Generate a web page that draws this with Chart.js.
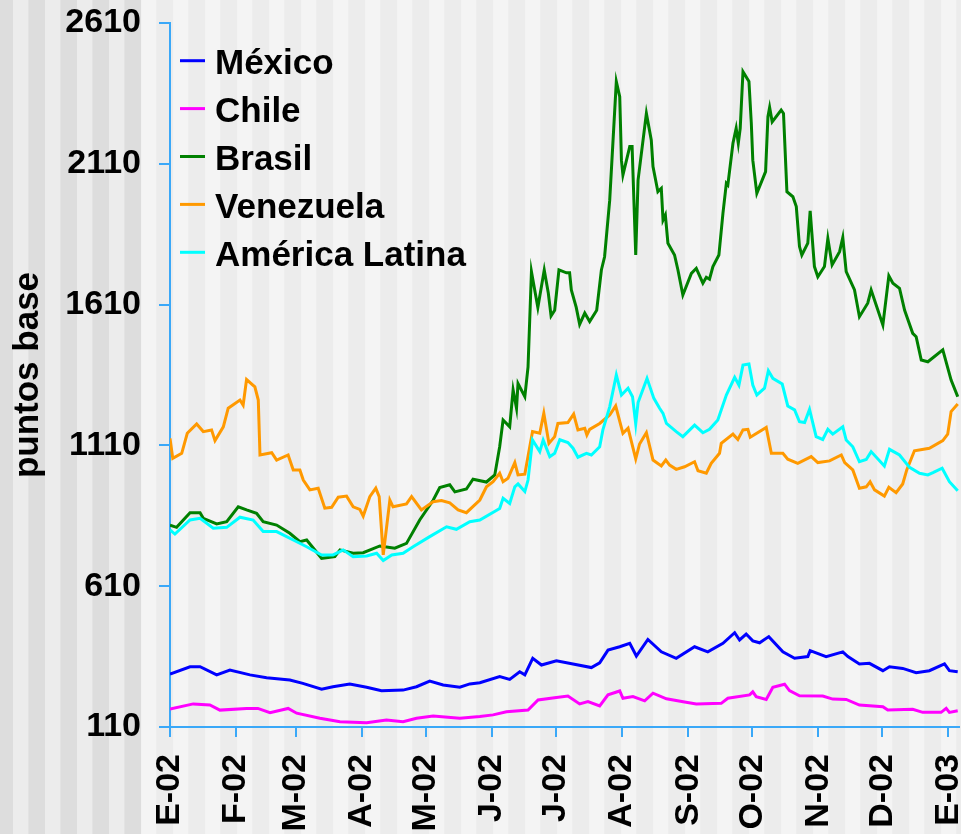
<!DOCTYPE html>
<html>
<head>
<meta charset="utf-8">
<script src="https://cdn.jsdelivr.net/npm/chart.js@4.4.0/dist/chart.umd.min.js"></script>
<style>
  body { margin: 0; background: #f4f4f4; }
  canvas { display: block; }
</style>
</head>
<body>
<canvas id="grafico" width="961" height="834"></canvas>
<script>
// ejes
var ticksY = [110, 610, 1110, 1610, 2110, 2610];
var diasMes = [0, 31, 59, 90, 120, 151, 181, 212, 243, 273, 304, 334, 365];
var etiquetasMes = ['E-02', 'F-02', 'M-02', 'A-02', 'M-02', 'J-02', 'J-02', 'A-02', 'S-02', 'O-02', 'N-02', 'D-02', 'E-03'];

// series (dias desde 1-ene-2002, puntos base)
var diasMexico = [0, 9.4, 14.1, 21.9, 28.1, 37.5, 45.3, 56.2, 62.3, 71.1, 76.4, 84.3, 92.2, 99.2, 109.3, 115.6, 121.8, 128.1, 135.9, 140.6,
  145.3, 154.6, 159.3, 164, 166.4, 170.1, 174.2, 181.2, 189, 197.6, 201.5, 205.4, 210.9, 215.6, 218.7, 224.1, 230.4, 237.4, 246, 252.2,
  259.3, 264.8, 267.1, 270.2, 273.3, 276.5, 280.8, 287.4, 292.9, 299.1, 300.2, 307.7, 315.5, 317.9, 323.3, 328, 334.3, 337.4, 343.6, 349.9,
  356.1, 363.2, 365.5, 369.4];
var mexico = [298, 324, 324, 295, 312, 295, 285, 277, 265, 244, 253, 263, 251, 239, 241, 253, 273, 259, 251, 263,
  267, 289, 279, 306, 295, 354, 330, 345, 334, 321, 338, 383, 395, 407, 362, 421, 377, 354, 395, 377,
  407, 445, 419, 440, 416, 409, 431, 377, 354, 360, 381, 360, 377, 360, 334, 336, 310, 324, 318, 303,
  310, 334, 310, 306];

var diasChile = [0, 10.9, 18.7, 23.4, 35.9, 41.2, 46.9, 55.4, 59.4, 70.3, 79.7, 92.2, 101.5, 109.3, 115.6, 123.4, 135.9, 145.3, 151.5, 157.8,
  167.9, 172.6, 181.2, 186.6, 192.1, 196, 201.5, 205.4, 210.9, 212.4, 217.1, 222.6, 226.5, 232.8, 241.3, 246.8, 258.5, 261.6, 271.8, 273.3,
  274.9, 279.6, 282.7, 288.2, 290.5, 295.2, 306.1, 310.8, 317.1, 323.3, 334.3, 336.6, 348.3, 353, 361.6, 364, 365.5, 369.4];
var chile = [174, 192, 188, 170, 176, 176, 161, 176, 159, 141, 129, 125, 135, 129, 141, 149, 141, 147, 153, 164,
  170, 206, 215, 220, 192, 200, 185, 224, 238, 212, 218, 203, 230, 210, 199, 192, 194, 212, 224, 235,
  218, 208, 251, 262, 239, 221, 220, 209, 208, 188, 182, 170, 173, 162, 162, 176, 162, 168];

var diasBrasil = [0, 3.1, 9.4, 14.1, 15.6, 21.9, 26.6, 32, 35.9, 40.6, 43.7, 50, 56.2, 60.9, 64.1, 71.1, 77.3, 79.7, 85.9, 90.6,
  98.4, 100.7, 105.4, 110.9, 117.1, 123.4, 126.5, 131.2, 133.6, 139, 142.1, 148.4, 152.3, 154.6, 156.2, 159.3, 160.9, 162.5, 163.2, 166.4,
  167.9, 169.5, 172.5, 175.5, 177.4, 178.7, 180.4, 182.4, 185.9, 187.4, 188.2, 190.5, 192.1, 194.5, 196.8, 200.1, 202.3, 203.8, 206.2, 209.3,
  210.9, 211.7, 212.4, 215.6, 216.7, 218.4, 219.5, 223.4, 225.7, 226.5, 228.8, 230.4, 231.2, 232.3, 233.5, 236.6, 238.2, 240.5, 244.5, 246.8,
  249.9, 251.5, 253, 254.6, 257.4, 259.3, 260.9, 261.6, 264, 265.5, 266.5, 267.4, 268.7, 271.5, 272.6, 273.3, 275.2, 279.3, 280.4, 281.2,
  282.4, 286.6, 287.7, 289.3, 292.1, 293.7, 295.2, 296.3, 299.1, 300.2, 302.2, 303.8, 306.9, 308.5, 310.5, 314, 315.5, 317.1, 321, 323.3,
  327.2, 328.8, 334.3, 337.1, 339, 342.1, 344.5, 348.3, 349.9, 352.3, 355.4, 362.4, 366.3, 369.4];
var brasil = [827, 819, 871, 871, 851, 831, 839, 892, 881, 869, 839, 827, 798, 768, 774, 709, 715, 739, 727, 729,
  753, 750, 745, 762, 845, 915, 960, 970, 945, 955, 990, 980, 1005, 1105, 1200, 1176, 1307, 1242, 1330, 1283,
  1389, 1727, 1600, 1733, 1651, 1570, 1590, 1733, 1723, 1723, 1662, 1600, 1540, 1580, 1550, 1590, 1733, 1780, 1981, 2402,
  2348, 2123, 2070, 2171, 2171, 1786, 2052, 2289, 2194, 2100, 2011, 2023, 1910, 1928, 1828, 1786, 1733, 1644, 1721, 1739,
  1686, 1707, 1700, 1745, 1786, 1934, 2041, 2035, 2183, 2236, 2183, 2236, 2437, 2402, 2254, 2123, 2005, 2082, 2277, 2310,
  2259, 2301, 2289, 2011, 1993, 1958, 1816, 1786, 1828, 1943, 1745, 1709, 1745, 1845, 1751, 1798, 1848, 1727, 1662, 1567,
  1615, 1662, 1538, 1712, 1686, 1668, 1590, 1508, 1496, 1413, 1407, 1449, 1342, 1283];

var diasVenezuela = [0, 1.3, 5.5, 8.1, 12.5, 15.6, 19.5, 21.1, 25, 27.3, 32.8, 34.3, 35.9, 39.8, 41.4, 42.2, 47.7, 50, 55.4, 57.8,
  60.9, 62.5, 65.6, 69.5, 72.6, 75.8, 78.9, 82.8, 85.9, 89, 90.6, 93.7, 96.5, 98.1, 100, 103.1, 104.6, 110.9, 113.3, 117.9,
  123.4, 127.3, 131.2, 135.1, 139, 145.3, 148.4, 151.5, 154.6, 156.2, 158.5, 161.7, 163.2, 166.4, 170, 173.4, 175.3, 177.7, 180.4, 181.9,
  186.6, 189.3, 191.3, 194.5, 195.5, 196.8, 201.5, 206.2, 209, 212.4, 214.8, 218.4, 220.2, 223.4, 226.5, 230.4, 232.5, 234.3, 237.4, 241.3,
  246, 247.6, 251.5, 253.8, 257.7, 258.5, 264, 266.3, 268.7, 271, 272.1, 279.6, 282, 287.4, 289.7, 294.4, 300.7, 303.8, 309.3, 314.8,
  316.4, 320.2, 323.3, 326.5, 328.3, 330.4, 335, 337.1, 340.5, 343.6, 345.5, 349.1, 356.1, 362.4, 364.7, 366.3, 369.4];
var venezuela = [1135, 1064, 1082, 1153, 1186, 1159, 1165, 1127, 1176, 1242, 1271, 1253, 1344, 1318, 1271, 1076, 1084, 1058, 1076, 1023,
  1023, 987, 952, 958, 887, 890, 926, 930, 892, 883, 859, 928, 958, 928, 721, 916, 892, 902, 928, 881,
  910, 914, 906, 881, 871, 916, 963, 981, 1011, 981, 993, 1049, 1005, 1008, 1159, 1153, 1224, 1117, 1141, 1188,
  1191, 1221, 1165, 1171, 1147, 1167, 1188, 1218, 1250, 1153, 1171, 1062, 1115, 1155, 1058, 1037, 1058, 1040, 1025, 1034,
  1052, 1020, 1011, 1046, 1082, 1117, 1150, 1131, 1165, 1167, 1139, 1174, 1082, 1082, 1061, 1046, 1070, 1049, 1055, 1076,
  1049, 1023, 958, 963, 981, 952, 930, 961, 942, 973, 1023, 1091, 1100, 1127, 1150, 1230, 1257];

var diasLatina = [0, 2.3, 9.4, 14.1, 20.3, 26.6, 32.8, 39, 43.7, 50, 57.8, 64.1, 71.1, 76.5, 81.2, 85.9, 92.2, 96.9, 100, 104,
  109.3, 114, 121.8, 129.7, 134.3, 140.6, 145.3, 154.6, 156.2, 159.3, 161.7, 163.2, 166.4, 167.9, 170, 173.4, 175, 178.1, 180.4, 182.8,
  186.6, 189, 191.3, 195.3, 197.6, 201.5, 203, 206.2, 209.3, 211.7, 214.8, 216.9, 218.4, 219.5, 223.7, 226.9, 229.6, 231.2, 232.8, 237.4,
  240.5, 246, 249.9, 253, 256.9, 260.9, 264.8, 266.8, 268.7, 271.5, 273.3, 275.2, 278.8, 280.6, 282.7, 287.1, 289.7, 292.9, 295.2, 297.6,
  299.9, 303, 306.1, 308.5, 310.8, 315.5, 317.1, 320.2, 323.3, 326.5, 328.8, 335, 337.4, 342.1, 346.8, 351.5, 355.4, 357.8, 362.1, 365.5,
  369.4];
var latina = [810, 795, 845, 851, 816, 819, 855, 845, 804, 804, 774, 750, 721, 721, 739, 715, 717, 727, 701, 721,
  727, 750, 786, 821, 812, 839, 845, 886, 922, 904, 963, 973, 946, 987, 1129, 1088, 1129, 1070, 1082, 1130,
  1120, 1100, 1068, 1082, 1076, 1105, 1165, 1247, 1360, 1289, 1313, 1283, 1186, 1262, 1348, 1277, 1242, 1224, 1188, 1159,
  1141, 1182, 1155, 1167, 1200, 1289, 1352, 1324, 1395, 1399, 1324, 1289, 1313, 1375, 1348, 1328, 1250, 1236, 1194, 1191,
  1238, 1141, 1131, 1167, 1150, 1176, 1129, 1105, 1052, 1060, 1088, 1037, 1096, 1076, 1032, 1011, 1005, 1013, 1029, 981,
  949];

var fuente = "Arial, 'Liberation Sans', sans-serif";
var colorEje = '#3aa8f8';

function puntos(dias, valores) {
  var out = [];
  for (var i = 0; i < dias.length; i++) out.push({ x: dias[i], y: valores[i] });
  return out;
}

function serie(nombre, dias, valores, color, orden) {
  return {
    label: nombre,
    data: puntos(dias, valores),
    borderColor: color,
    backgroundColor: color,
    borderWidth: 3,
    pointRadius: 0,
    tension: 0,
    order: orden
  };
}

// fondo a franjas verticales
var fondo = {
  id: 'fondo',
  beforeDraw: function (chart) {
    var ctx = chart.ctx;
    ctx.save();
    for (var k = -1; k < 32; k++) {
      var x0 = 32 * k + 13.3;
      var claro = x0 < 130 ? '#ececec' : '#f4f4f4';
      var oscuro = x0 < 150 ? '#dddddd' : '#ececec';
      ctx.fillStyle = oscuro;
      ctx.fillRect(x0 - 17, 0, 17, chart.height);
      ctx.fillStyle = claro;
      ctx.fillRect(x0, 0, 15, chart.height);
    }
    ctx.restore();
  }
};

// leyenda dentro del area
var leyenda = {
  id: 'leyenda',
  afterDatasetsDraw: function (chart) {
    var ctx = chart.ctx;
    ctx.save();
    ctx.font = 'bold 35px ' + fuente;
    ctx.textBaseline = 'alphabetic';
    ctx.fillStyle = '#000';
    chart.data.datasets.forEach(function (ds, fila) {
      var base = 74 + fila * 47.9;
      ctx.strokeStyle = ds.borderColor;
      ctx.lineWidth = 3;
      ctx.beginPath();
      ctx.moveTo(180, base - 13.3);
      ctx.lineTo(205, base - 13.3);
      ctx.stroke();
      ctx.fillText(ds.label, 215, base);
    });
    ctx.restore();
  }
};

new Chart(document.getElementById('grafico'), {
  type: 'line',
  data: {
    datasets: [
      serie('México', diasMexico, mexico, '#0000ff', 5),
      serie('Chile', diasChile, chile, '#ff00ff', 4),
      serie('Brasil', diasBrasil, brasil, '#008000', 3),
      serie('Venezuela', diasVenezuela, venezuela, '#ff9900', 2),
      serie('América Latina', diasLatina, latina, '#00ffff', 1)
    ]
  },
  options: {
    responsive: false,
    devicePixelRatio: 1,
    animation: false,
    layout: { padding: { left: 0, top: 23, right: 2, bottom: 0 } },
    plugins: {
      legend: { display: false },
      tooltip: { enabled: false }
    },
    scales: {
      x: {
        type: 'linear',
        min: 0,
        max: 370,
        grid: { drawOnChartArea: false, color: colorEje, lineWidth: 2, tickLength: 10 },
        border: { color: colorEje, width: 2 },
        afterBuildTicks: function (s) {
          s.ticks = diasMes.map(function (d) { return { value: d }; });
        },
        afterFit: function (s) {
          s.height = 107;
          s.paddingRight = 0;
          s.paddingLeft = 0;
        },
        ticks: {
          autoSkip: false,
          minRotation: 90,
          maxRotation: 90,
          padding: 17,
          color: '#000',
          font: { family: fuente, size: 34, weight: 'bold' },
          callback: function (v, i) { return etiquetasMes[i]; }
        }
      },
      y: {
        min: 110,
        max: 2610,
        grid: { drawOnChartArea: false, color: colorEje, lineWidth: 2, tickLength: 11 },
        border: { color: colorEje, width: 2 },
        afterBuildTicks: function (s) {
          s.ticks = ticksY.map(function (v) { return { value: v }; });
        },
        afterFit: function (s) {
          s.width = 170;
          s.paddingTop = 0;
          s.paddingBottom = 0;
        },
        title: {
          display: true,
          text: 'puntos base',
          color: '#000',
          font: { family: fuente, size: 35, weight: 'bold' },
          padding: { top: 7, bottom: 0 }
        },
        ticks: {
          padding: 18,
          color: '#000',
          font: { family: fuente, size: 34, weight: 'bold' },
          callback: function (v) { return String(v); }
        }
      }
    }
  },
  plugins: [fondo, leyenda]
});
</script>
</body>
</html>
